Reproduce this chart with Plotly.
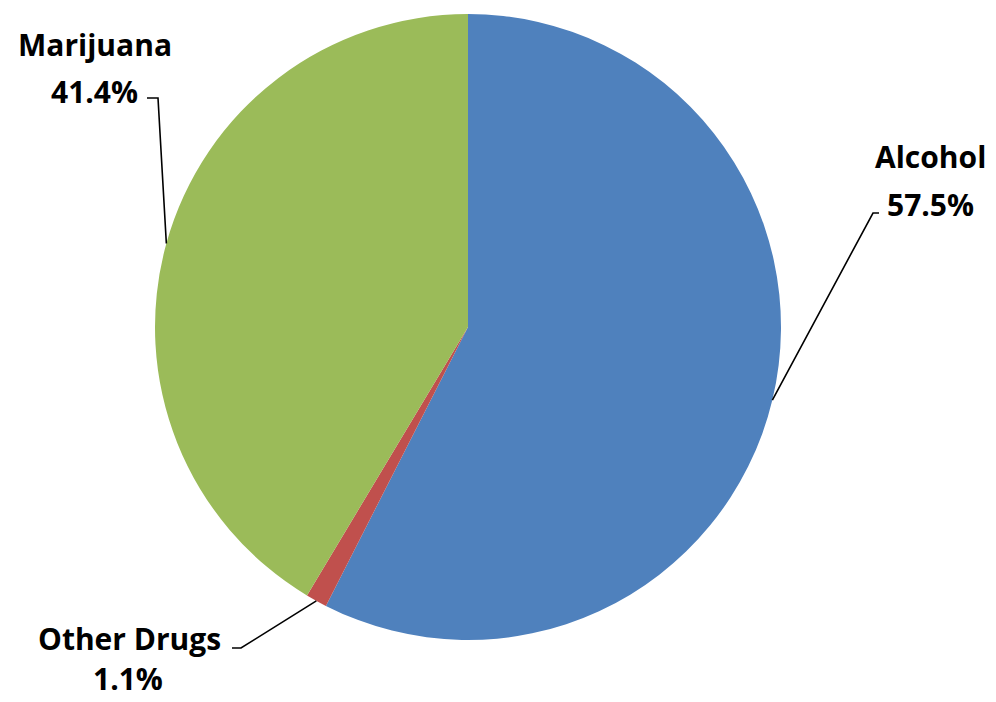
import math
import plotly.graph_objects as go

# Share of cases by substance
categories = ["Alcohol", "Other Drugs", "Marijuana"]
shares = [57.5, 1.1, 41.4]
colors = ["#4F81BD", "#C0504D", "#9BBB59"]

W, H = 996, 702
# pie geometry in pixels (center and radius)
CX, CY, R = 468, 327, 313

# label layout per category: elbow point, end of short horizontal tick, name/percent text centers
label_layout = {
    "Alcohol":     dict(elbow=(873, 213), tick=(879, 213), name=(930, 156), pct=(930, 204)),
    "Other Drugs": dict(elbow=(241, 648), tick=(232, 648), name=(129, 638), pct=(128, 678)),
    "Marijuana":   dict(elbow=(158, 98),  tick=(147, 98),  name=(95, 45),   pct=(94, 91)),
}

FONT = "Open Sans"
FONT_SIZE = 30


def px(x):
    return x / W


def py(y):
    return 1 - y / H


fig = go.Figure(go.Pie(
    labels=categories,
    values=shares,
    marker=dict(colors=colors, line=dict(width=0)),
    sort=False,
    direction="clockwise",
    rotation=0,
    textinfo="none",
    hoverinfo="label+percent",
    showlegend=False,
    domain=dict(x=[px(CX - R), px(CX + R)], y=[py(CY + R), py(CY - R)]),
))

shapes = []
annotations = []
total = sum(shares)
cum = 0.0
for name, val in zip(categories, shares):
    mid = (cum + val / 2) / total * 2 * math.pi
    cum += val
    ax = CX + R * math.sin(mid)
    ay = CY - R * math.cos(mid)
    lay = label_layout[name]
    ex, ey = lay["elbow"]
    tx, ty = lay["tick"]
    path = f"M {px(ax)} {py(ay)} L {px(ex)} {py(ey)} L {px(tx)} {py(ty)}"
    shapes.append(dict(type="path", xref="paper", yref="paper", path=path,
                       line=dict(color="black", width=1.6)))
    pct = round(val / total * 100, 1)
    for text, (x, y) in ((f"<b>{name}</b>", lay["name"]), (f"<b>{pct:.1f}%</b>", lay["pct"])):
        annotations.append(dict(xref="paper", yref="paper", x=px(x), y=py(y),
                                xanchor="center", yanchor="middle", showarrow=False,
                                borderpad=0,
                                text=text, font=dict(family=FONT, size=FONT_SIZE, color="black")))

fig.update_layout(
    width=W, height=H,
    margin=dict(l=0, r=0, t=0, b=0),
    paper_bgcolor="white",
    plot_bgcolor="white",
    shapes=shapes,
    annotations=annotations,
)

fig.write_html("out.html")
